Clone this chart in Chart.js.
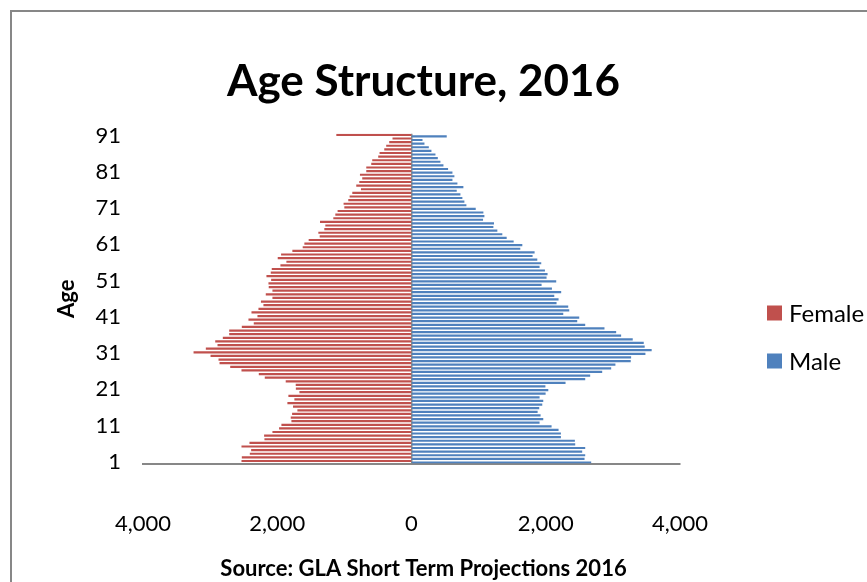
<!DOCTYPE html>
<html>
<head>
<meta charset="utf-8">
<script src="https://cdn.jsdelivr.net/npm/chart.js@4.4.0/dist/chart.umd.min.js"></script>
<style>
    html, body { margin: 0; padding: 0; background: #fff; overflow: hidden; }
    #frame { position: absolute; left: 10px; top: 10px; width: 900px; height: 600px;
             border-left: 2px solid #878787; border-top: 2px solid #878787; }
    #wrap { position: absolute; left: 0; top: 0; width: 867px; height: 582px; }
</style>
</head>
<body>
<div id="frame"></div>
<div id="wrap"><canvas id="pyramid"></canvas></div>
<script>
// Idades 1..91 (91 = 90+)
const ages = [];
for (let a = 1; a <= 91; a++) ages.push(String(a));

// Valores, idade 1 primeiro
const female = [
    2528, 2523, 2404, 2384, 2528, 2409, 2186, 2191, 2067, 1968,
    1933, 1784, 1794, 1774, 1695, 1760, 1844, 1740, 1829, 1665,
    1718, 1720, 1869, 2181, 2270, 2528, 2696, 2855, 2870, 2989,
    3242, 3059, 2885, 2919, 2806, 2711, 2711, 2523, 2345, 2424,
    2290, 2379, 2275, 2201, 2238, 2067, 2166, 2067, 2122, 2126,
    2086, 2156, 2092, 2077, 1948, 1859, 1988, 1938, 1770, 1616,
    1591, 1527, 1363, 1383, 1294, 1279, 1358, 1160, 1130, 1096,
    996, 1007, 937, 917, 877, 748, 818, 773, 729, 763,
    669, 669, 595, 580, 491, 471, 401, 372, 327, 278,
    1115
];
const male = [
    2672, 2573, 2583, 2538, 2583, 2434, 2429, 2221, 2221, 2186,
    2082, 1903, 1958, 1918, 1874, 1898, 1943, 1958, 1903, 1993,
    2033, 1990, 2290, 2583, 2657, 2836, 2970, 3033, 3261, 3267,
    3480, 3573, 3469, 3455, 3291, 3118, 3044, 2870, 2583, 2464,
    2494, 2256, 2345, 2330, 2156, 2186, 2122, 2225, 2087, 1933,
    2151, 2007, 2022, 1983, 1903, 1928, 1869, 1799, 1829, 1616,
    1646, 1517, 1413, 1348, 1274, 1215, 1224, 1061, 1081, 1066,
    952, 813, 783, 753, 724, 669, 768, 679, 605, 634,
    605, 540, 471, 426, 387, 352, 292, 253, 188, 159,
    520
];
const xTicks = [-4000, -2000, 0, 2000, 4000];

const FONT = 'Lato';
const AXIS_GRAY = '#878787';
const PAD_RIGHT = 20;

// Legenda desenhada à direita, como no Excel
const sideLegend = {
    id: 'sideLegend',
    afterDraw(chart) {
        const ctx = chart.ctx;
        const items = [
            { ds: chart.data.datasets[0], y: 313 },
            { ds: chart.data.datasets[1], y: 361 }
        ];
        ctx.save();
        ctx.font = '24px ' + FONT;
        ctx.textBaseline = 'middle';
        items.forEach(it => {
            ctx.fillStyle = it.ds.backgroundColor;
            ctx.fillRect(767, it.y - 7.5, 15, 15);
            ctx.fillStyle = '#000';
            ctx.fillText(it.ds.label, 789, it.y + 1);
        });
        ctx.restore();
    }
};

new Chart(document.getElementById('pyramid'), {
    type: 'bar',
    data: {
        labels: ages,
        datasets: [
            { label: 'Female', data: female.map(v => -v), backgroundColor: '#C0504D', barThickness: 1.5 },
            { label: 'Male', data: male, backgroundColor: '#4F81BD', barThickness: 1.5 }
        ]
    },
    options: {
        indexAxis: 'y',
        responsive: true,
        maintainAspectRatio: false,
        animation: false,
        layout: { padding: { left: 0, right: PAD_RIGHT, top: 0, bottom: 0 } },
        scales: {
            x: {
                min: -4000,
                max: 4000,
                afterBuildTicks: scale => { scale.ticks = xTicks.map(v => ({ value: v })); },
                afterFit: scale => { scale.height = 92; },
                ticks: {
                    padding: 47,
                    color: '#000',
                    font: { family: FONT, size: 22 },
                    maxRotation: 0,
                    callback: v => Math.abs(v).toLocaleString('en-US')
                },
                grid: {
                    drawTicks: false,
                    lineWidth: 1.5,
                    color: c => (c.tick && c.tick.value === 0 ? AXIS_GRAY : 'rgba(0,0,0,0)')
                },
                border: { display: true, color: AXIS_GRAY, width: 2 }
            },
            y: {
                reverse: true,
                afterFit: scale => { scale.width = 143; },
                ticks: {
                    autoSkip: false,
                    padding: 22,
                    color: '#000',
                    font: { family: FONT, size: 22 },
                    callback: function (v, i) { return i % 10 === 0 ? this.getLabelForValue(v) : ''; }
                },
                grid: { display: false, drawTicks: false },
                border: { display: false },
                title: {
                    display: true,
                    text: 'Age',
                    color: '#000',
                    font: { family: FONT, size: 22, weight: 'bold' },
                    padding: { top: 54, bottom: 0 }
                }
            },
            // espaço vazio à direita onde fica a legenda
            side: {
                type: 'linear',
                position: 'right',
                afterFit: scale => { scale.width = 867 - PAD_RIGHT - 680; },
                ticks: { display: false },
                grid: { display: false, drawTicks: false },
                border: { display: false }
            }
        },
        plugins: {
            legend: { display: false },
            tooltip: { enabled: false },
            title: {
                display: true,
                text: 'Age Structure, 2016',
                color: '#000',
                font: { family: FONT, size: 44, weight: 'bold' },
                padding: { top: 55, bottom: 26 }
            },
            subtitle: {
                display: true,
                position: 'bottom',
                text: 'Source: GLA Short Term Projections 2016',
                color: '#000',
                font: { family: FONT, size: 22, weight: 'bold' },
                padding: { top: 0, bottom: 0 }
            }
        }
    },
    plugins: [sideLegend]
});
</script>
</body>
</html>
